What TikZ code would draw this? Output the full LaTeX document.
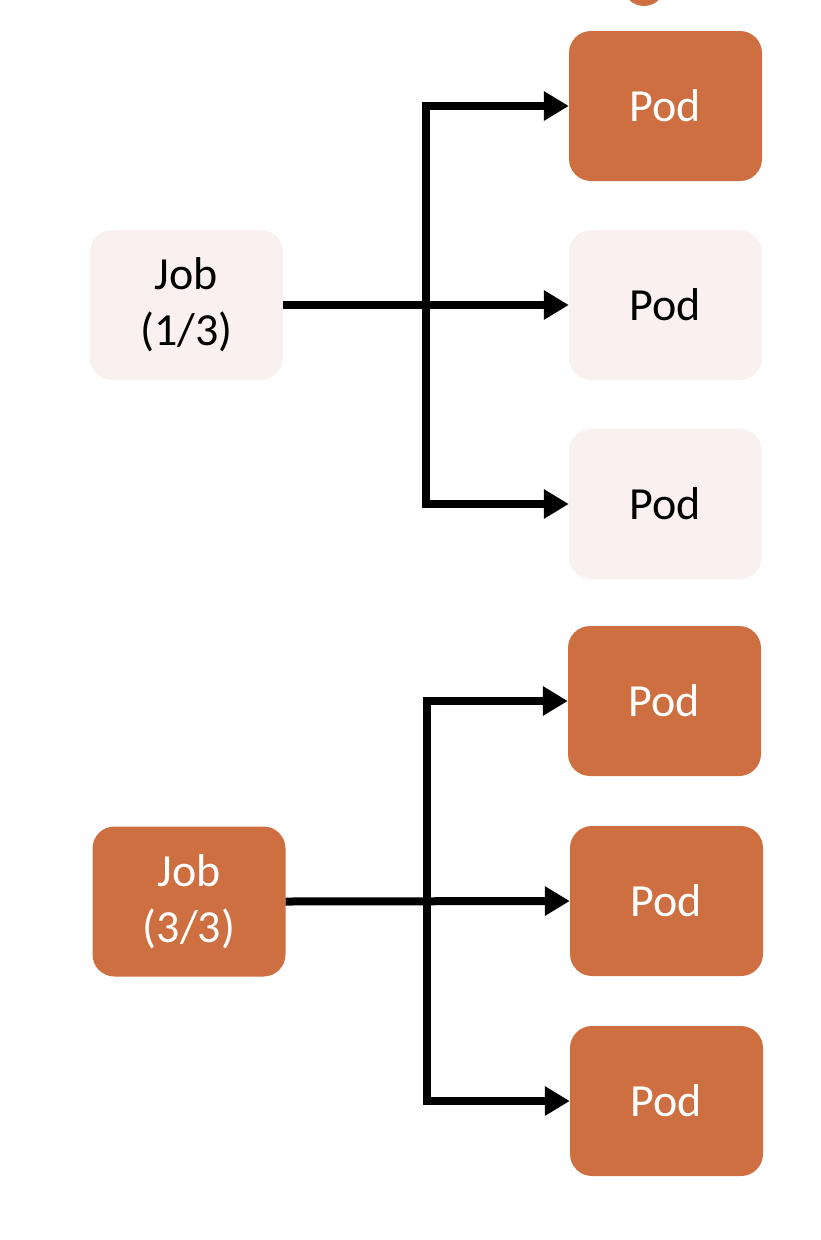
\documentclass[tikz,border=0pt]{standalone}
\usepackage{fontspec}
\setmainfont{Carlito}
\usetikzlibrary{arrows.meta}
\definecolor{rust}{HTML}{CD6F40}
\definecolor{blush}{HTML}{F9F1EF}
\tikzset{
  box/.style={rounded corners=22pt, minimum width=193pt, minimum height=150pt, inner sep=0pt,
    font=\fontsize{46}{56}\selectfont, align=center},
  hot/.style={box, fill=rust, text=white},
  cold/.style={box, fill=blush, text=black},
  conn/.style={line width=8pt, -{Triangle[length=25pt,width=28pt]}},
  bar/.style={line width=8pt}
}
\begin{document}
\begin{tikzpicture}[x=1pt,y=-1pt]
\useasboundingbox (0,0) rectangle (820,1240);
\begin{scope}
\clip (0,0) rectangle (820,1240);
\fill[rust] (644,-15) circle (21);
\end{scope}
\node[hot]  (p1) at (665.5,106) {Pod};
\node[cold] (p2) at (665.5,305) {Pod};
\node[cold] (p3) at (665.5,504) {Pod};
\node[cold] (j1) at (186.5,305) {Job\\(1/3)};
\node[hot]  (p4) at (664.5,701) {Pod};
\node[hot]  (p5) at (666.5,901) {Pod};
\node[hot]  (p6) at (666.5,1101) {Pod};
\node[hot]  (j2) at (189,901.5) {Job\\(3/3)};
\coordinate (s1) at (426,305);
\coordinate (s2) at (427,902);
\draw[conn] (j1.east) -- (p2.west);
\draw[conn] (s1) |- (p1.west);
\draw[conn] (s1) |- (p3.west);
\draw[conn] (j2.east) -- (p5.west);
\draw[conn] (s2) |- (p4.west);
\draw[conn] (s2) |- (p6.west);
\end{tikzpicture}
\end{document}
